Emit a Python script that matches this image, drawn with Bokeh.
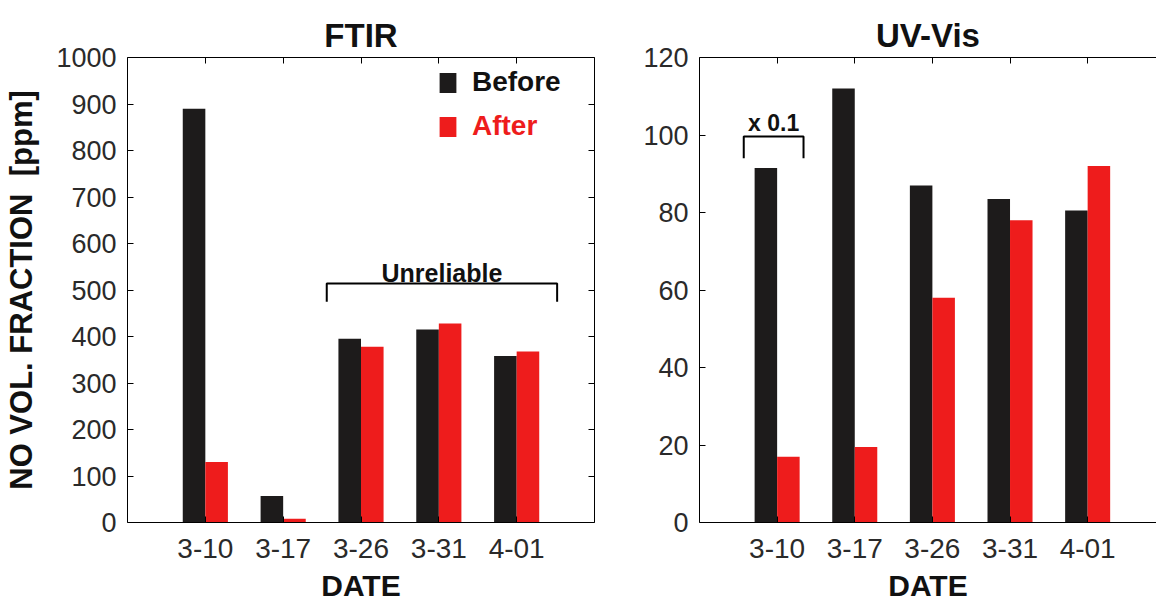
import numpy as np
from bokeh.plotting import figure
from bokeh.layouts import row
from bokeh.models import (FixedTicker, LinearAxis, Range1d, Legend, LegendItem, Label)
from bokeh.embed import file_html
from bokeh.resources import INLINE

# ---------------- data ----------------
dates = ["3-10", "3-17", "3-26", "3-31", "4-01"]
ftir_before = [890, 57, 395, 415, 358]
ftir_after = [130, 8, 378, 428, 368]
uv_before = [91.5, 112, 87, 83.5, 80.5]
uv_after = [17, 19.5, 58, 78, 92]
ftir_yticks = [0, 100, 200, 300, 400, 500, 600, 700, 800, 900, 1000]
uv_yticks = [0, 20, 40, 60, 80, 100, 120]

# annotation brackets (data units)
unreliable_x = [2.56, 5.52]
unreliable_y = [475, 514]
x01_x = [0.57, 1.34]
x01_y = [94, 99.6]

BLACK = "#1d1b1b"
RED = "#ee1c1c"
FONT = "Liberation Sans"
TICK_COLOR = "#2a2a2a"

positions = np.arange(1, len(dates) + 1)
BAR_W = 0.29
OFF = 0.145


def style_axis(ax, labels=True, size="27px"):
    ax.major_tick_in = 6
    ax.major_tick_out = 0
    ax.minor_tick_line_color = None
    ax.axis_line_color = "black"
    ax.major_tick_line_color = "black"
    ax.major_label_text_font = FONT
    ax.major_label_text_font_size = size if labels else "0px"
    ax.major_label_text_color = TICK_COLOR
    ax.axis_label_text_font = FONT
    ax.axis_label_text_font_style = "bold"
    ax.axis_label_text_color = "#111111"


def make_panel(title, before, after, yticks, ymax, width, bl, br, xend, ylabel, right_axis, toff):
    p = figure(width=width, height=606, x_range=Range1d(0, xend), y_range=Range1d(0, ymax),
               output_backend="svg", toolbar_location=None,
               min_border_left=bl, min_border_right=br, min_border_top=57, min_border_bottom=84)
    p.grid.visible = False
    p.outline_line_color = None
    p.background_fill_color = "white"
    p.border_fill_color = "white"

    p.title.text = title
    p.title.align = "center"
    p.title.offset = toff
    p.title.text_font = FONT
    p.title.text_font_size = "33px"
    p.title.text_font_style = "bold"
    p.title.text_color = "#111111"
    p.title.standoff = 8

    p.xaxis.ticker = FixedTicker(ticks=list(positions))
    p.xaxis.major_label_overrides = {int(i): d for i, d in zip(positions, dates)}
    p.xaxis.axis_label = "DATE"
    style_axis(p.xaxis[0], size="28px")
    p.xaxis.axis_label_text_font_size = "30px"
    p.xaxis.major_label_standoff = 16
    p.xaxis.axis_label_standoff = 8

    p.yaxis.ticker = FixedTicker(ticks=yticks)
    style_axis(p.yaxis[0], size="27px")
    p.yaxis.major_label_standoff = 11
    if ylabel:
        p.yaxis.axis_label = ylabel
        p.yaxis.axis_label_text_font_size = "31px"
        p.yaxis.axis_label_standoff = 14

    top = LinearAxis(ticker=FixedTicker(ticks=list(positions)))
    style_axis(top, labels=False)
    p.add_layout(top, "above")
    if right_axis:
        ra = LinearAxis(ticker=FixedTicker(ticks=yticks))
        style_axis(ra, labels=False)
        p.add_layout(ra, "right")

    rb = p.vbar(x=positions - OFF, top=before, width=BAR_W, fill_color=BLACK, line_color=None)
    ra_ = p.vbar(x=positions + OFF, top=after, width=BAR_W, fill_color=RED, line_color=None)
    return p, rb, ra_


# ---------------- FTIR ----------------
p1, rb1, ra1 = make_panel("FTIR", ftir_before, ftir_after, ftir_yticks, 1000,
                          640, 127, 46, 6, "NO VOL. FRACTION\u00a0 [ppm]", True, 0)

for lbl, rend, col, bottom in [("Before", rb1, "#111111", 424), ("After", ra1, RED, 380)]:
    lg = Legend(items=[LegendItem(label=lbl, renderers=[rend])], location=(310, bottom),
                label_text_font=FONT, label_text_font_size="28px", label_text_font_style="bold",
                label_text_color=col, glyph_width=21, glyph_height=25, label_height=25,
                label_standoff=14, padding=0, margin=0, spacing=0,
                border_line_color=None, background_fill_alpha=0)
    p1.add_layout(lg)

x0, x1 = unreliable_x
y0, y1 = unreliable_y
p1.line(x=[x0, x0, x1, x1], y=[y0, y1, y1, y0], line_color="black", line_width=2)
p1.add_layout(Label(x=(x0 + x1) / 2, y=y1 + 22, text="Unreliable", text_align="center",
                    text_baseline="alphabetic", text_font=FONT, text_font_size="25px",
                    text_font_style="bold", text_color="#111111"))

# ---------------- UV-Vis ----------------
p2, rb2, ra2 = make_panel("UV-Vis", uv_before, uv_after, uv_yticks, 120,
                          516, 58, 0, 458 / 77.8, None, False, -10)
a0, a1 = x01_x
b0, b1 = x01_y
p2.line(x=[a0, a0, a1, a1], y=[b0, b1, b1, b0], line_color="black", line_width=2)
p2.add_layout(Label(x=(a0 + a1) / 2, y=b1 + 3.4, text="x 0.1", text_align="center",
                    text_baseline="alphabetic", text_font=FONT, text_font_size="23px",
                    text_font_style="bold", text_color="#111111"))

layout = row(p1, p2)
open("out.html", "w").write(file_html(layout, INLINE))
